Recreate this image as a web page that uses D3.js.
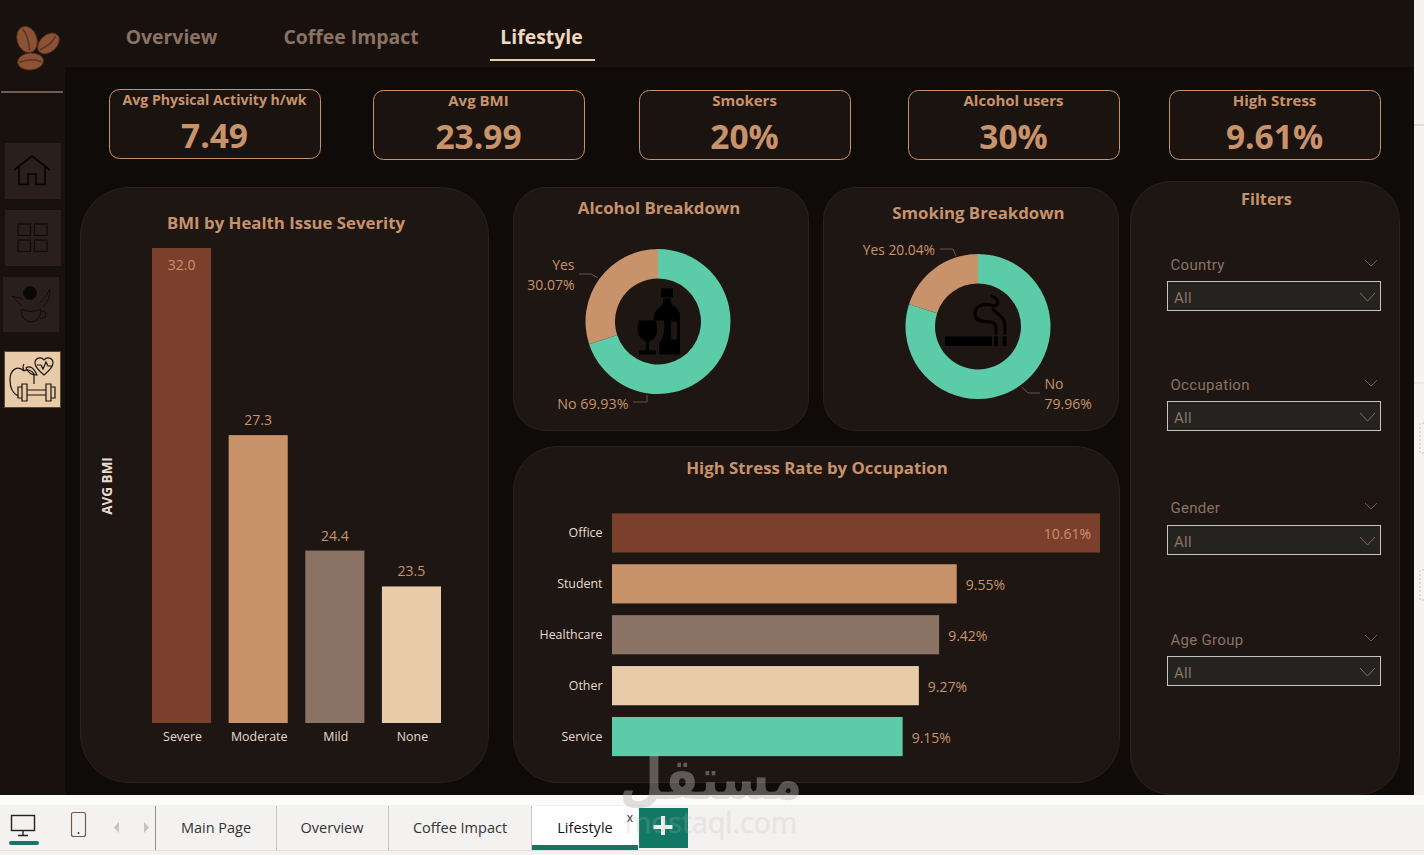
<!DOCTYPE html>
<html>
<head>
<meta charset="utf-8">
<title>Lifestyle</title>
<script src="https://cdn.jsdelivr.net/npm/d3@7/dist/d3.min.js"></script>
<style>
  html, body { margin: 0; padding: 0; background: #f3f2f1; overflow: hidden; }
  svg { display: block; }
  text { font-family: "Open Sans", "Noto Sans", sans-serif; }
  .din { font-family: Roboto, "Open Sans", sans-serif; letter-spacing: 0.3px; }
</style>
</head>
<body>
<svg id="page" width="1424" height="855"></svg>
<script>
// Data
const kpiLabels = ["Avg Physical Activity h/wk", "Avg BMI", "Smokers", "Alcohol users", "High Stress"];
const kpiValues = ["7.49", "23.99", "20%", "30%", "9.61%"];
const navLabels = ["Overview", "Coffee Impact", "Lifestyle"];
const severityNames = ["Severe", "Moderate", "Mild", "None"];
const severityBmi = [32.0, 27.3, 24.4, 23.5];
const occupationNames = ["Office", "Student", "Healthcare", "Other", "Service"];
const occupationStress = [10.61, 9.55, 9.42, 9.27, 9.15];
const alcoholNames = ["No", "Yes"];
const alcoholShare = [69.93, 30.07];
const smokingNames = ["No", "Yes"];
const smokingShare = [79.96, 20.04];
const filterNames = ["Country", "Occupation", "Gender", "Age Group"];
const tabNames = ["Main Page", "Overview", "Coffee Impact", "Lifestyle"];

const barColors = ["#7a402c", "#c8936b", "#8a7264", "#e8cba9", "#5ccba7"];
const tan = "#c8936b";
const panelFill = "#1e1612";
const panelStroke = "#2c211b";

const svg = d3.select("#page");

function rect(g, x, y, w, h, fill, rx) {
  return g.append("rect").attr("x", x).attr("y", y).attr("width", w).attr("height", h)
    .attr("fill", fill).attr("rx", rx || 0);
}
function label(g, x, y, str, size, fill, anchor, weight) {
  return g.append("text").attr("x", x).attr("y", y).text(str)
    .attr("font-size", size).attr("fill", fill)
    .attr("text-anchor", anchor || "start").attr("font-weight", weight || 400);
}

// Page frame
rect(svg, 0, 0, 1424, 855, "#f3f2f1");
rect(svg, 0, 0, 1414, 795, "#19110e");
rect(svg, 65, 67, 1349, 728, "#0f0b08");
rect(svg, 1414, 0, 10, 795, "#f5f4f3");
svg.append("line").attr("x1", 1414).attr("x2", 1424).attr("y1", 125).attr("y2", 125).attr("stroke", "#c9c9c9");
svg.append("line").attr("x1", 1414).attr("x2", 1424).attr("y1", 383).attr("y2", 383).attr("stroke", "#dedede");
[423, 570].forEach(y => {
  svg.append("path").attr("d", `M1424,${y} H1420 V${y + 30} H1424`).attr("fill", "none")
    .attr("stroke", "#c9c9c9").attr("stroke-dasharray", "2,2");
});
rect(svg, 1, 91, 62, 2, "#6f5c50");

// Top navigation
const navX = [171.5, 351, 541.5];
navLabels.forEach((t, i) => {
  label(svg, navX[i], 44, t, 19.4, i === 2 ? "#f0d8bd" : "#8a7264", "middle", 700);
});
rect(svg, 490, 59, 105, 2, "#e8cba9");

// Coffee beans logo
const beans = svg.append("g").attr("fill", "#8c5236").attr("stroke", "#4a2a1c").attr("stroke-width", 0.8);
[[27, 39.5, 10, 13.5, -18], [48.5, 43.5, 8.5, 12.5, 48], [30.5, 61.5, 13, 8.5, -4]].forEach(b => {
  const bean = beans.append("g").attr("transform", `translate(${b[0]},${b[1]}) rotate(${b[4]})`);
  bean.append("ellipse").attr("rx", b[2]).attr("ry", b[3]);
  const vertical = b[3] > b[2];
  bean.append("path").attr("fill", "none").attr("stroke", "#5b3323").attr("stroke-width", 1.5)
    .attr("d", vertical ? `M-1,${-b[3] + 2} Q3,-3 -1,${b[3] - 2}` : `M${-b[2] + 2},0 Q0,-4 ${b[2] - 2},1`);
});

// Side buttons
[[5, 143, 56, 56], [5, 210, 56, 56], [3, 277, 56, 55]].forEach(b => rect(svg, b[0], b[1], b[2], b[3], "#2a1f1a"));
rect(svg, 4.5, 351.5, 56, 56, "#e8cba9").attr("stroke", "#5a4436");

const homeIcon = svg.append("g").attr("fill", "none").attr("stroke", "#050505").attr("stroke-width", 1.6);
homeIcon.append("path").attr("d", "M14,170 L32,156 L50,170 M19,167 V184.5 H28 V174 H36 V184.5 H45 V167");
const gridIcon = svg.append("g").attr("fill", "none").attr("stroke", "#0f0c0a").attr("stroke-width", 1.2);
[[18, 224], [34.5, 224], [18, 240], [34.5, 240]].forEach(p => {
  gridIcon.append("rect").attr("x", p[0]).attr("y", p[1]).attr("width", 12.5).attr("height", 11.5);
});
const angelIcon = svg.append("g").attr("fill", "none").attr("stroke", "#0f0c0a").attr("stroke-width", 1);
angelIcon.append("circle").attr("cx", 30).attr("cy", 293).attr("r", 6.5).attr("fill", "#0a0807");
angelIcon.append("path").attr("d", "M21,309 Q31,314 41,309 Q41,321 31,322 Q21,321 21,309 M41,311 Q48,311 45,317 L40,319");
angelIcon.append("path").attr("d", "M22,306 L12,296 L23,299 M40,303 Q47,296 50,289 Q51,298 43,307");
const healthIcon = svg.append("g").attr("fill", "none").attr("stroke", "#1b1410").attr("stroke-width", 1.2);
healthIcon.append("path").attr("d", "M24,371 C18,365 10,369 10,380 C10,389 14,394 18,396 M24,371 C27,369 32,370 34,374 V384 M24,371 Q22,367 24,364");
healthIcon.append("path").attr("d", "M26,368 Q32,364 37,375 Q29,375 26,368 Z");
healthIcon.append("path").attr("d", "M44,375 C38,370 35,367 35,363 C35,358 41,356 44,360 C47,356 53,358 53,363 C53,367 50,370 44,375 Z M37,365 H41 L43,369 L46,362 L48,366 H52");
healthIcon.append("path").attr("d", "M18,387 H22 V398 H18 Z M22,384 H27 V401 H22 Z M46,384 H51 V401 H46 Z M51,387 H55 V398 H51 Z M27,390 H46 M27,395 H46");

// KPI cards
const kpiBoxes = [[109, 89, 212, 70], [373, 90, 212, 70], [639, 90, 212, 70], [908, 90, 212, 70], [1169, 90, 212, 70]];
kpiBoxes.forEach((b, i) => {
  rect(svg, b[0] + 0.5, b[1] + 0.5, b[2] - 1, b[3] - 1, "#1b1310", 10).attr("stroke", tan);
  const cx = b[0] + b[2] / 2 - 0.5;
  label(svg, cx, b[1] + 16, kpiLabels[i], i === 0 ? 14.1 : 15, tan, "middle", 700);
  label(svg, cx, b[1] + 59, kpiValues[i], 33.5, tan, "middle", 700);
});

// Panels
function panel(x, y, w, h, r) {
  return rect(svg, x + 0.5, y + 0.5, w - 1, h - 1, panelFill, r).attr("stroke", panelStroke);
}
panel(80, 187, 409, 596, 48);
panel(513, 187, 296, 244, 32);
panel(823, 187, 296, 244, 32);
panel(513, 446, 607, 337, 44);
panel(1130, 181, 270, 614, 40);

// BMI by severity: the value axis starts near 20, as in the picture
label(svg, 286, 229, "BMI by Health Issue Severity", 16.8, tan, "middle", 700);
const bmiX = d3.scaleBand().domain(severityNames).range([152, 441]).paddingInner(0.229).paddingOuter(0);
const bmiY = d3.scaleLinear().domain([20.07, 32]).range([723, 248]);
const bmiBars = svg.append("g");
bmiBars.selectAll("rect").data(severityNames).join("rect")
  .attr("x", d => bmiX(d))
  .attr("y", (d, i) => bmiY(severityBmi[i]))
  .attr("width", bmiX.bandwidth())
  .attr("height", (d, i) => bmiY.range()[0] - bmiY(severityBmi[i]))
  .attr("fill", (d, i) => barColors[i]);
bmiBars.selectAll("text").data(severityNames).join("text")
  .attr("x", d => bmiX(d) + bmiX.bandwidth() / 2)
  .attr("y", (d, i) => i === 0 ? bmiY(severityBmi[i]) + 22 : bmiY(severityBmi[i]) - 10)
  .attr("text-anchor", "middle").attr("font-size", 14).attr("fill", tan)
  .text((d, i) => severityBmi[i].toFixed(1));
const bmiAxis = svg.append("g").attr("transform", "translate(0,723)")
  .call(d3.axisBottom(bmiX).tickSize(0).tickPadding(9));
bmiAxis.select(".domain").remove();
bmiAxis.selectAll("text").attr("font-size", 12.4).attr("fill", "#e8dcd0")
  .attr("dx", 1)
  .style("font-family", '"Open Sans", sans-serif');
label(svg, 0, 0, "AVG BMI", 13.5, "#e8dcd0", "middle", 700)
  .attr("transform", "translate(112,486) rotate(-90)");

// Donuts
const pie = d3.pie().sort(null).value(d => d);
const arc = d3.arc().innerRadius(43).outerRadius(72.5);
function donut(cx, cy, shares) {
  const g = svg.append("g").attr("transform", `translate(${cx},${cy})`);
  g.selectAll("path").data(pie(shares)).join("path")
    .attr("d", arc)
    .attr("fill", (d, i) => i === 0 ? barColors[4] : tan);
  return g;
}
function leader(points) {
  svg.append("path").attr("d", d3.line()(points)).attr("fill", "none").attr("stroke", "#6b5446");
}

label(svg, 659, 214, "Alcohol Breakdown", 16.8, tan, "middle", 700);
const alcoholDonut = donut(658, 321.5, alcoholShare);
label(svg, 574.5, 270, alcoholNames[1], 14, tan, "end");
label(svg, 574.5, 290, alcoholShare[1].toFixed(2) + "%", 14, tan, "end");
label(svg, 628.5, 409, alcoholNames[0] + " " + alcoholShare[0].toFixed(2) + "%", 14.3, tan, "end");
leader([[579, 274], [591, 274], [598, 278]]);
leader([[633, 402], [647, 402], [647, 395]]);
// bottle and glass
alcoholDonut.append("path").attr("fill", "#000").attr("d",
  "M3,-33 H15 V-24 H3 Z M5,-23 H13 V-19 C13,-16 22,-14 22,-6 V33 H1 V22 C6,15 7,9 6,-1 H-4 V-5 C-4,-12 5,-15 5,-19 Z");
alcoholDonut.append("rect").attr("x", 13).attr("y", 0).attr("width", 6).attr("height", 18).attr("fill", panelFill);
alcoholDonut.append("path").attr("fill", "#000").attr("d",
  "M-19,-1 H-2 C0,8 0,17 -9,20 V29 H-2 V33 H-19 V29 H-12 V20 C-21,17 -21,8 -19,-1 Z");

label(svg, 978.5, 219, "Smoking Breakdown", 16.8, tan, "middle", 700);
const smokingDonut = donut(978, 326.5, smokingShare);
label(svg, 935, 255, smokingNames[1] + " " + smokingShare[1].toFixed(2) + "%", 13.8, tan, "end");
label(svg, 1044.5, 389, smokingNames[0], 14, tan);
label(svg, 1044.5, 409, smokingShare[0].toFixed(2) + "%", 14, tan);
leader([[940, 249], [953, 249], [956, 256]]);
leader([[1022, 387], [1028, 393], [1040, 393]]);
// cigarette and smoke
smokingDonut.append("rect").attr("x", -33).attr("y", 10).attr("width", 47).attr("height", 9.5).attr("fill", "#000");
smokingDonut.append("rect").attr("x", 16).attr("y", 10).attr("width", 4).attr("height", 9.5).attr("fill", "#000");
smokingDonut.append("rect").attr("x", 24.5).attr("y", 10).attr("width", 4).attr("height", 9.5).attr("fill", "#000");
smokingDonut.append("path").attr("fill", "none").attr("stroke", "#000").attr("stroke-width", 3)
  .attr("d", "M13,-31 C22,-27 22,-20 14,-21 C5,-24 -3,-20 -3,-13 C-3,-7 2,-5 8,-5 C15,-5 18,-3 18,2 V8 M14,-18 C22,-11 27,-8 27,-1 V8");

// High stress by occupation: the value axis starts near 7, as in the picture
label(svg, 817, 474, "High Stress Rate by Occupation", 16.8, tan, "middle", 700);
const stressX = d3.scaleLinear().domain([7.0, 10.61]).range([612, 1100]);
const stressY = d3.scaleBand().domain(occupationNames).range([507.5, 762]).paddingInner(0.23).paddingOuter(0.115);
const stressBars = svg.append("g");
stressBars.selectAll("rect").data(occupationNames).join("rect")
  .attr("x", stressX.range()[0])
  .attr("y", d => stressY(d))
  .attr("width", (d, i) => stressX(occupationStress[i]) - stressX.range()[0])
  .attr("height", stressY.bandwidth())
  .attr("fill", (d, i) => barColors[i]);
stressBars.selectAll("text").data(occupationNames).join("text")
  .attr("x", (d, i) => i === 0 ? stressX(occupationStress[i]) - 9 : stressX(occupationStress[i]) + 9)
  .attr("y", d => stressY(d) + stressY.bandwidth() / 2 + 6)
  .attr("text-anchor", (d, i) => i === 0 ? "end" : "start")
  .attr("font-size", 14).attr("fill", tan)
  .text((d, i) => occupationStress[i].toFixed(2) + "%");
const stressAxis = svg.append("g").attr("transform", "translate(612,0)")
  .call(d3.axisLeft(stressY).tickSize(0).tickPadding(9.5));
stressAxis.select(".domain").remove();
stressAxis.selectAll("text").attr("font-size", 12.4).attr("fill", "#e8dcd0")
  .style("font-family", '"Open Sans", sans-serif');

// Filters
label(svg, 1266.5, 205, "Filters", 16.2, tan, "middle", 700);
const filterY = [264, 384, 507, 639];
const boxY = [282, 402, 526, 657];
function chevron(x, y, w, h, color) {
  svg.append("path").attr("d", d3.line()([[x, y], [x + w / 2, y + h], [x + w, y]]))
    .attr("fill", "none").attr("stroke", color);
}
filterNames.forEach((name, i) => {
  label(svg, 1170.5, filterY[i] + 6, name, 15, "#8a7264").attr("class", "din");
  chevron(1365, filterY[i] - 4, 12, 6, "#6f5a4d");
  rect(svg, 1167.5, boxY[i] - 0.5, 213, 29, "#252320").attr("stroke", "#c9c4bf");
  label(svg, 1174, boxY[i] + 21, "All", 15, "#8a7264").attr("class", "din");
  chevron(1360, boxY[i] + 11, 15, 8, "#8a6a58");
});

// Report tab bar
rect(svg, 0, 795, 1424, 10, "#fbfbfa");
rect(svg, 0, 850, 1424, 1, "#e1e0df");
svg.append("g").call(g => {
  g.append("rect").attr("x", 11.5).attr("y", 815.5).attr("width", 23).attr("height", 15).attr("fill", "none").attr("stroke", "#222").attr("stroke-width", 1.4);
  g.append("path").attr("d", "M23,831 V835 M18,835.5 H28").attr("stroke", "#222").attr("stroke-width", 1.4);
  g.append("rect").attr("x", 9).attr("y", 841).attr("width", 30).attr("height", 4).attr("rx", 2).attr("fill", "#117865");
  g.append("rect").attr("x", 71.5).attr("y", 812.5).attr("width", 14).attr("height", 24).attr("rx", 2).attr("fill", "none").attr("stroke", "#6f5a4d").attr("stroke-width", 1.2);
  g.append("circle").attr("cx", 78.5).attr("cy", 833).attr("r", 0.9).attr("fill", "#333");
  g.append("path").attr("d", "M119,822 L114,827.5 L119,833 Z M144,822 L149,827.5 L144,833 Z").attr("fill", "#c4c4c4");
});
const tabEdges = [155.5, 276.5, 388.5, 531.5];
tabEdges.forEach(x => {
  svg.append("line").attr("x1", x).attr("x2", x).attr("y1", 806).attr("y2", 850).attr("stroke", x === 155.5 ? "#8f8f8f" : "#c9c9c9");
});
rect(svg, 532, 806, 106, 44, "#ffffff");
rect(svg, 532, 845, 106, 5, "#117865");
const tabCenters = [216, 332, 460, 585];
tabNames.forEach((t, i) => {
  label(svg, tabCenters[i], 833, t, 14.5, i === 3 ? "#111" : "#333", "middle");
});
label(svg, 630, 822, "x", 12, "#222", "middle");
rect(svg, 639, 808, 49, 40, "#117865");
svg.append("path").attr("d", "M663,816 V835 M653.5,827 H672.5").attr("stroke", "#f0f0f0").attr("stroke-width", 4);

// Watermark
const mark = svg.append("g").attr("opacity", 0.42).attr("fill", "#b9b8b6").attr("text-anchor", "middle");
mark.append("text").attr("font-size", 50).attr("font-weight", 700)
  .attr("transform", "translate(711,799) scale(1,1.15)")
  .style("font-family", '"DejaVu Sans", sans-serif').text("مستقل");
mark.append("text").attr("x", 711).attr("y", 833).attr("font-size", 28.5).attr("font-weight", 400)
  .attr("opacity", 0.5).attr("stroke", "#b9b8b6").attr("stroke-width", 0.6)
  .text("mostaql.com");
</script>
</body>
</html>
